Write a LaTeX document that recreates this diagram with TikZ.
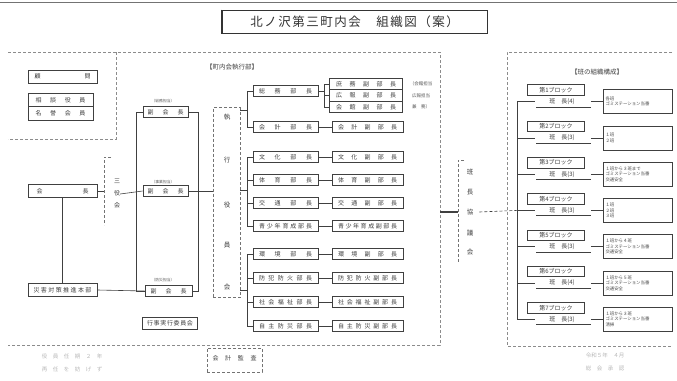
\documentclass[tikz,border=0pt]{standalone}
\usepackage{fontspec}
\setmainfont{Noto Sans CJK JP}
\newcommand\sprd[2]{\makebox[#1][s]{#2}}
\begin{document}
\begin{tikzpicture}[x=1pt,y=-1pt,
  ln/.style={draw=black!75, line width=0.6pt},
  frame/.style={draw=black!45, densely dashed, line width=0.6pt},
  box/.style={draw=black!75, line width=0.7pt, inner sep=0pt, minimum height=11pt, font=\fontsize{6}{6.5}\selectfont, text=black!75},
  dbox/.style={draw=black!55, densely dashed, line width=0.6pt, inner sep=0pt, font=\fontsize{6}{6.5}\selectfont, text=black!75},
  lbl/.style={inner sep=0pt, font=\fontsize{6}{6.5}\selectfont, text=black!75},
  tinylbl/.style={inner sep=0pt, font=\fontsize{3.8}{4.2}\selectfont, text=black!65},
  note/.style={draw=black!75, line width=0.6pt, inner sep=1.5pt, minimum width=69pt, text width=64pt, minimum height=24pt, align=left, font=\fontsize{4.4}{5.6}\selectfont, text=black!70},
  faint/.style={inner sep=0pt, font=\fontsize{5.5}{6}\selectfont, text=black!28},
  head/.style={inner sep=0pt, font=\fontsize{6.5}{7}\selectfont, text=black!75},
]
\useasboundingbox (0,0) rectangle (677,380);
\fill[white] (0,0) rectangle (677,380);
\draw[black!55, line width=1pt] (0,2) -- (677,2);

% title
\node[draw=black!80, line width=0.8pt, minimum width=265pt, minimum height=23pt, inner sep=0pt,
      font=\fontsize{12.5}{14}\selectfont\addfontfeature{LetterSpace=12}, text=black!80] (title) at (354.5,21.5) {北ノ沢第三町内会　組織図（案）};
\draw[black!80, line width=1.6pt] (title.north west) -- (title.south west) -- (title.south east);

% frames
\draw[frame] (8,52) -- (440,52) -- (440,345) -- (8,345);
\draw[frame] (116,52) -- (116,139) -- (8,139);
\draw[frame] (672,52) -- (507,52) -- (507,346) -- (672,346);

% top-left
\node[box, line width=1pt, minimum width=69pt, minimum height=13pt] (komon) at (62.5,76.5) {\sprd{56pt}{顧\hfil 問}};
\node[box, minimum width=65pt, minimum height=13.5pt] (sodan) at (60.5,100) {\sprd{50pt}{相\hfil 談\hfil 役\hfil 員}};
\node[box, minimum width=65pt, minimum height=13.5pt] (meiyo) at (60.5,113.5) {\sprd{50pt}{名\hfil 誉\hfil 会\hfil 員}};

\node[head] (exechead) at (232,67) {【町内会執行部】};

% president
\node[box, line width=1pt, minimum width=69pt, minimum height=13pt] (kaicho) at (62.5,191) {\sprd{52pt}{会\hfil 長}};
\node[box, minimum width=69pt, minimum height=13pt] (bousai) at (62.5,290) {\sprd{58pt}{災\hfil 害\hfil 対\hfil 策\hfil 推\hfil 進\hfil 本\hfil 部}};
\draw[ln, line width=1.4pt] (kaicho.south) -- (bousai.north);

% sanyakukai
\coordinate (sbr) at (104,191);
\draw[dbox] (111,157) -- (104,157) -- (104,225);
\draw[ln] (kaicho.east) -- (sbr);
\node[lbl, align=center, font=\fontsize{6}{12}\selectfont] (sanyaku) at (117,194) {三\\役\\会};

% vice presidents
\node[box, minimum width=45pt] (fuku1) at (165.5,112) {\sprd{36pt}{副\hfil 会\hfil 長}};
\node[box, minimum width=45pt] (fuku2) at (165.5,191) {\sprd{36pt}{副\hfil 会\hfil 長}};
\node[box, minimum width=47pt] (fuku3) at (168.5,291) {\sprd{36pt}{副\hfil 会\hfil 長}};
\node[tinylbl] (lab1) at (163,101) {（総務担当）};
\node[tinylbl] (lab2) at (163,182) {（事業担当）};
\node[tinylbl] (lab3) at (163,280) {（防災担当）};
\draw[ln] (fuku1.west) -- ++(-6,0) |- (fuku3.west);
\draw[ln] (sanyaku.east) -- (fuku2.west);
\draw[ln] (bousai.east) -- (fuku3.west);
\coordinate (fb) at (198,191);
\draw[ln] (fuku1.east) -- (fuku1.east -| fb) -- (fuku3.east -| fb) -- (fuku3.east);
\draw[ln] (fuku2.east) -- (fb);

% executive board
\node[dbox, minimum width=27pt, minimum height=190pt] (shikko) at (226.5,202.5) {};
\draw[ln] (fb) -- (fb -| shikko.west);
\foreach \c/\yy [count=\k] in {執/117,行/160,役/205,員/245,会/287}
  \node[lbl, font=\fontsize{6.5}{7}\selectfont] (sk\k) at (227,\yy) {\c};

% departments
\foreach \k/\yy/\dname/\rname in {
  2/127/会\hfil 計\hfil 部\hfil 長/会\hfil 計\hfil 副\hfil 部\hfil 長,
  3/157/文\hfil 化\hfil 部\hfil 長/文\hfil 化\hfil 副\hfil 部\hfil 長,
  4/180/体\hfil 育\hfil 部\hfil 長/体\hfil 育\hfil 副\hfil 部\hfil 長,
  5/203/交\hfil 通\hfil 部\hfil 長/交\hfil 通\hfil 副\hfil 部\hfil 長,
  6/226/青\hfil 少\hfil 年\hfil 育\hfil 成\hfil 部\hfil 長/青\hfil 少\hfil 年\hfil 育\hfil 成\hfil 副\hfil 部\hfil 長,
  7/254/環\hfil 境\hfil 部\hfil 長/環\hfil 境\hfil 副\hfil 部\hfil 長,
  8/278/防\hfil 犯\hfil 防\hfil 火\hfil 部\hfil 長/防\hfil 犯\hfil 防\hfil 火\hfil 副\hfil 部\hfil 長,
  9/302/社\hfil 会\hfil 福\hfil 祉\hfil 部\hfil 長/社\hfil 会\hfil 福\hfil 祉\hfil 副\hfil 部\hfil 長,
  10/326/自\hfil 主\hfil 防\hfil 災\hfil 部\hfil 長/自\hfil 主\hfil 防\hfil 災\hfil 副\hfil 部\hfil 長}{
  \node[box, minimum width=65pt] (d\k) at (285.5,\yy) {\sprd{53pt}{\dname}};
  \node[box, minimum width=71pt] (r\k) at (367.5,\yy) {\sprd{59pt}{\rname}};
  \draw[ln] (d\k.east) -- (r\k.west);
}
\node[box, minimum width=65pt] (d1) at (285.5,91) {\sprd{53pt}{総\hfil 務\hfil 部\hfil 長}};
\node[box, minimum width=73pt, minimum height=11.5pt] (s1) at (366,84) {\sprd{60pt}{庶\hfil 務\hfil 副\hfil 部\hfil 長}};
\node[box, minimum width=73pt, minimum height=11.5pt] (s2) at (366,95.5) {\sprd{60pt}{広\hfil 報\hfil 副\hfil 部\hfil 長}};
\node[box, minimum width=73pt, minimum height=11.5pt] (s3) at (366,107) {\sprd{60pt}{会\hfil 館\hfil 副\hfil 部\hfil 長}};
\coordinate (sb) at (324,91);
\draw[ln] (d1.east) -- (sb);
\draw[ln] (s1.west) -- (s1.west -| sb) -- (s3.west -| sb) -- (s3.west);
\draw[ln] (s2.west) -- (s2.west -| sb);
\node[tinylbl, font=\fontsize{4.5}{5}\selectfont] (nt1) at (421,84) {（会館担当};
\node[tinylbl, font=\fontsize{4.5}{5}\selectfont] (nt2) at (421,95.5) {広報担当};
\node[tinylbl, font=\fontsize{4.5}{5}\selectfont] (nt3) at (421,107) {兼　務）};

\coordinate (ga) at (247,110);
\coordinate (gb) at (247,190);
\coordinate (gc) at (247,290);
\draw[ln] (shikko.east |- ga) -- (ga);
\draw[ln] (d1.west) -- (d1.west -| ga) -- (d2.west -| ga) -- (d2.west);
\draw[ln] (shikko.east |- gb) -- (gb);
\draw[ln] (d3.west) -- (d3.west -| gb) -- (d6.west -| gb) -- (d6.west);
\draw[ln] (d4.west) -- (d4.west -| gb);
\draw[ln] (d5.west) -- (d5.west -| gb);
\draw[ln] (shikko.east |- gc) -- (gc);
\draw[ln] (d7.west) -- (d7.west -| gc) -- (d10.west -| gc) -- (d10.west);
\draw[ln] (d8.west) -- (d8.west -| gc);
\draw[ln] (d9.west) -- (d9.west -| gc);

\node[box, minimum width=55pt, minimum height=12pt] (gyoji) at (170,323) {\sprd{46pt}{行\hfil 事\hfil 実\hfil 行\hfil 委\hfil 員\hfil 会}};

% han-cho council
\coordinate (fr) at (440,212);
\coordinate (mb) at (458,212);
\draw[dbox] (464,160) -- (458,160) -- (458,262);
\draw[ln, line width=1.3pt] (fr) -- (mb);
\foreach \c/\yy [count=\k] in {班/172,長/192,協/212,議/233,会/252}
  \node[lbl, font=\fontsize{6.5}{7}\selectfont] (hk\k) at (470,\yy) {\c};

\node[head] (blockhead) at (597,72) {【班の組織構成】};

\foreach \i/\n/\ta/\tb/\tc in {
  1/4/各班/ゴミステーション当番/,
  2/3/１班/２班/,
  3/3/１班から３班まで/ゴミステーション当番/交通安全,
  4/3/１班/２班/３班,
  5/3/１班から４班/ゴミステーション当番/交通安全,
  6/4/１班から５班/ゴミステーション当番/交通安全,
  7/3/１班から３班/ゴミステーション当番/清掃}{
  \pgfmathsetmacro\by{90+36.3*(\i-1)}
  \pgfmathsetmacro\ly{\by+11.5}
  \node[box, minimum width=57pt, minimum height=10.5pt] (b\i) at (556,\by) {第\i ブロック};
  \node[lbl] (h\i) at (562,\ly) {班　長(\n)};
  \coordinate (v\i) at (517,\ly);
  \node[note] (n\i) at (637.5,\ly) {\ta\\\tb\\\tc};
  \draw[black!75, line width=1pt] (536,\ly+5.5) -- (591,\ly+5.5);
  \draw[ln] (v\i) -- ([xshift=-14pt]h\i.west);
  \draw[ln] ([xshift=16pt]h\i.east) -- (n\i.west);
}
\draw[ln] (v1) -- (v7);
\draw[ln, densely dashed] (hk3.east) ++(6,0) -- (v4);

% bottom
\node[dbox, minimum width=55pt, minimum height=24pt, anchor=north] (kansa) at (234.5,348) {};
\node[lbl] (kansat) at (234.5,358) {\sprd{44pt}{会\hfil 計\hfil 監\hfil 査}};
\node[faint] (f1) at (72,356) {役　員　任　期　２　年};
\node[faint] (f2) at (72,369) {再　任　を　妨　げ　ず};
\node[faint] (f3) at (605,355) {令和５年　４月};
\node[faint] (f4) at (605,368) {総　会　承　認};
\end{tikzpicture}
\end{document}
